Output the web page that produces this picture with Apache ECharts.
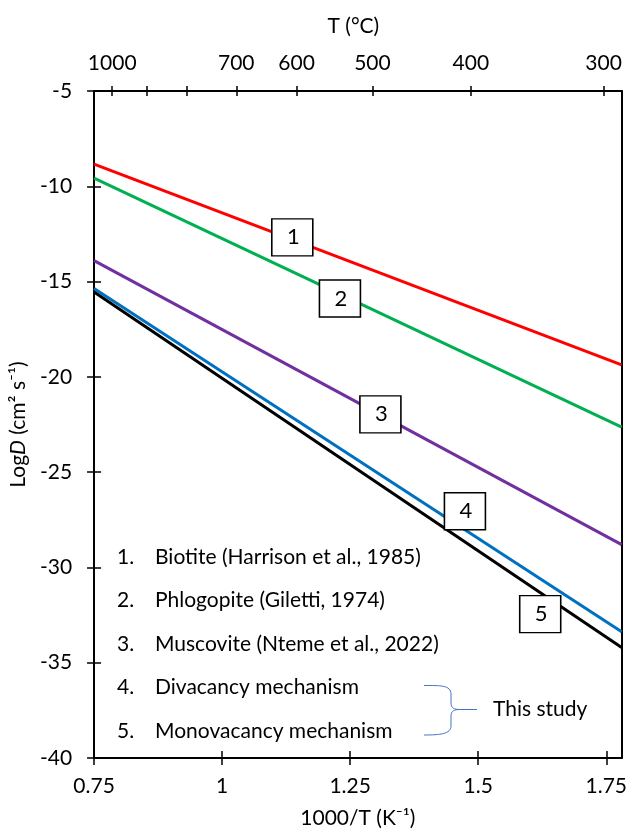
<!DOCTYPE html>
<html><head><meta charset="utf-8">
<script src="https://cdn.jsdelivr.net/npm/echarts@6/dist/echarts.min.js"></script>
<style>html,body{margin:0;padding:0;background:#fff}#c{width:630px;height:834px}</style>
</head><body><div id="c"></div>
<script>
// ---- data ----
const xEnds = [0.75, 1.78];
const biotite = [-8.84, -19.37];
const phlogopite = [-9.57, -22.64];
const muscovite = [-13.9, -28.8];
const divacancy = [-15.36, -33.37];
const monovacancy = [-15.55, -34.2];
const lineColors = ['#FF0000', '#00B050', '#7030A0', '#0070C0', '#000000'];
const bottomTicks = [0.75, 1, 1.25, 1.5, 1.75];
const topTickTemps = [1000, 900, 800, 700, 600, 500, 400, 300];
const topLabelTemps = [1000, 700, 600, 500, 400, 300];
const boxLabels = ['1', '2', '3', '4', '5'];
const boxX = [1.137, 1.230, 1.309, 1.474, 1.621];
const boxY = [-12.68, -15.89, -21.97, -27.05, -32.45];
const legendItems = [
  ['1.', 'Biotite (Harrison et al., 1985)'],
  ['2.', 'Phlogopite (Giletti, 1974)'],
  ['3.', 'Muscovite (Nteme et al., 2022)'],
  ['4.', 'Divacancy mechanism'],
  ['5.', 'Monovacancy mechanism']
];
const braceText = 'This study';

const FONT = 'Lato';
const FS = 21;
const toInv = t => 1000 / (t + 273.15);
const seriesVals = [biotite, phlogopite, muscovite, divacancy, monovacancy];

const chart = echarts.init(document.getElementById('c'));
const axisLineStyle = {color: '#000', width: 2};
const tickStyle = {color: '#000', width: 1.5};

const lineSeries = seriesVals.map((vals, i) => ({
  type: 'line',
  xAxisIndex: 0, yAxisIndex: 0,
  data: xEnds.map((x, j) => [x, vals[j]]),
  showSymbol: false,
  symbol: 'none',
  lineStyle: {color: lineColors[i], width: 3},
  z: 3,
  animation: false
}));

const boxSeries = {
  type: 'scatter',
  xAxisIndex: 0, yAxisIndex: 0,
  data: boxX.map((x, i) => [x, boxY[i]]),
  symbol: 'rect',
  symbolSize: [41, 37],
  itemStyle: {color: '#fff', borderColor: '#000', borderWidth: 1.5, opacity: 1},
  label: {show: true, position: 'inside', formatter: p => boxLabels[p.dataIndex],
          fontSize: 22, color: '#000', fontFamily: FONT, padding: [4, 0, 0, 2]},
  z: 10,
  animation: false
};

const legendGraphics = [];
const rowY = [557, 600.5, 644, 687.5, 731];
legendItems.forEach((it, i) => {
  legendGraphics.push({type: 'text', x: 117, y: rowY[i],
    style: {text: it[0], fontSize: FS, fontFamily: FONT, fill: '#000', textVerticalAlign: 'middle', verticalAlign: 'middle'}});
  legendGraphics.push({type: 'text', x: 155, y: rowY[i],
    style: {text: it[1], fontSize: FS, fontFamily: FONT, fill: '#000', textVerticalAlign: 'middle', verticalAlign: 'middle'}});
});
const braceStyle = {stroke: '#4472C4', lineWidth: 1, fill: null};
legendGraphics.push(
  {type: 'bezierCurve', shape: {x1: 424, y1: 685.5, cpx1: 440, cpy1: 685.5, cpx2: 451, cpy2: 685, x2: 451, y2: 694}, style: braceStyle},
  {type: 'line', shape: {x1: 451, y1: 694, x2: 451, y2: 703}, style: braceStyle},
  {type: 'bezierCurve', shape: {x1: 451, y1: 703, cpx1: 451, cpy1: 708, cpx2: 454, cpy2: 709.5, x2: 460, y2: 709.5}, style: braceStyle},
  {type: 'line', shape: {x1: 460, y1: 709.5, x2: 477, y2: 709.5}, style: braceStyle},
  {type: 'bezierCurve', shape: {x1: 460, y1: 709.5, cpx1: 454, cpy1: 709.5, cpx2: 451, cpy2: 711, x2: 451, y2: 716}, style: braceStyle},
  {type: 'line', shape: {x1: 451, y1: 716, x2: 451, y2: 726}, style: braceStyle},
  {type: 'bezierCurve', shape: {x1: 451, y1: 726, cpx1: 451, cpy1: 734, cpx2: 440, cpy2: 735, x2: 424, y2: 735}, style: braceStyle}
);
legendGraphics.push({type: 'text', x: 493, y: 709,
  style: {text: braceText, fontSize: FS, fontFamily: FONT, fill: '#000', textVerticalAlign: 'middle', verticalAlign: 'middle'}});

chart.setOption({
  animation: false,
  textStyle: {fontFamily: FONT},
  grid: {left: 92.5, right: 8.3, top: 91, bottom: 75, containLabel: false},
  xAxis: [
    {type: 'value', position: 'bottom', min: 0.75, max: 1.78,
     axisLine: {show: true, onZero: false, lineStyle: axisLineStyle},
     axisTick: {show: true, customValues: bottomTicks, length: 7, inside: false, lineStyle: tickStyle},
     axisLabel: {customValues: bottomTicks, fontSize: FS, color: '#000', margin: 18,
                 formatter: v => String(v)},
     splitLine: {show: false},
     name: '1000/T (K⁻¹)', nameLocation: 'middle', nameGap: 50,
     nameTextStyle: {fontSize: FS, color: '#000'}},
    {type: 'value', position: 'bottom', min: 0.75, max: 1.78,
     axisLine: {show: false, onZero: false},
     axisTick: {show: true, customValues: bottomTicks, length: 7, inside: true, lineStyle: tickStyle},
     axisLabel: {show: false}, splitLine: {show: false}},
    {type: 'value', position: 'top', min: 0.75, max: 1.78,
     axisLine: {show: true, onZero: false, lineStyle: axisLineStyle},
     axisTick: {show: true, customValues: topTickTemps.map(toInv), length: 5, inside: false, lineStyle: tickStyle},
     axisLabel: {customValues: topLabelTemps.map(toInv), fontSize: FS, color: '#000', margin: 17,
                 formatter: v => String(Math.round(1000 / v - 273.15))},
     splitLine: {show: false},
     name: 'T (°C)', nameLocation: 'middle', nameGap: 54,
     nameTextStyle: {fontSize: FS, color: '#000', padding: [0, 9, 0, 0]}},
    {type: 'value', position: 'top', min: 0.75, max: 1.78,
     axisLine: {show: false, onZero: false},
     axisTick: {show: true, customValues: topTickTemps.map(toInv), length: 5, inside: true, lineStyle: tickStyle},
     axisLabel: {show: false}, splitLine: {show: false}}
  ],
  yAxis: [
    {type: 'value', position: 'left', min: -40, max: -5, interval: 5,
     axisLine: {show: true, onZero: false, lineStyle: axisLineStyle},
     axisTick: {show: true, length: 7, inside: false, lineStyle: tickStyle},
     axisLabel: {fontSize: FS, color: '#000', margin: 22},
     splitLine: {show: false},
     name: '{n|Log}{i|D}{n| (cm² s⁻¹)}', nameLocation: 'middle', nameGap: 62, nameRotate: 90,
     nameTextStyle: {fontSize: FS, color: '#000',
       rich: {n: {fontSize: FS, fontFamily: FONT, color: '#000'},
              i: {fontSize: FS, fontFamily: FONT, fontStyle: 'italic', color: '#000'}}}},
    {type: 'value', position: 'left', min: -40, max: -5, interval: 5,
     axisLine: {show: false, onZero: false},
     axisTick: {show: true, length: 7, inside: true, lineStyle: tickStyle},
     axisLabel: {show: false}, splitLine: {show: false}},
    {type: 'value', position: 'right', min: -40, max: -5, interval: 5,
     axisLine: {show: true, onZero: false, lineStyle: axisLineStyle},
     axisTick: {show: false}, axisLabel: {show: false}, splitLine: {show: false}}
  ],
  series: lineSeries.concat([boxSeries]),
  graphic: legendGraphics
});
</script>
</body></html>
